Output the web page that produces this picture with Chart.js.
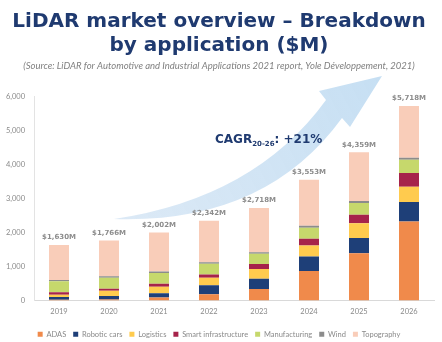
<!DOCTYPE html>
<html>
<head>
<meta charset="utf-8">
<script src="https://cdn.jsdelivr.net/npm/chart.js@4/dist/chart.umd.min.js"></script>
<style>
  html, body { margin: 0; padding: 0; background: #fff; }
  #wrap { width: 442px; height: 342px; position: relative; }
</style>
</head>
<body>
<div id="wrap"><canvas id="lidarChart"></canvas></div>
<script>
// Données (M$)
const years = ['2019', '2020', '2021', '2022', '2023', '2024', '2025', '2026'];
const totals = [1630, 1766, 2002, 2342, 2718, 3553, 4359, 5718];
const adas = [20, 30, 87, 184, 339, 870, 1391, 2319];
const roboticCars = [80, 100, 126, 261, 299, 425, 444, 580];
const logistics = [67, 154, 193, 222, 290, 319, 435, 444];
const smartInfra = [78, 58, 87, 97, 145, 203, 251, 406];
const manufacturing = [319, 328, 319, 319, 300, 319, 348, 386];
const wind = [40, 40, 40, 45, 48, 58, 58, 58];
const topography = [1026, 1056, 1150, 1214, 1297, 1359, 1432, 1525];
const yTicks = [0, 1000, 2000, 3000, 4000, 5000, 6000];

const FONT = 'Lato, "Open Sans", sans-serif';
const HEAVY = '"DejaVu Sans", sans-serif';

// Flèche bleue en arrière-plan + texte CAGR
const arrowPlugin = {
    id: 'arrow',
    beforeDatasetsDraw(chart) {
        const ctx = chart.ctx;
        ctx.save();
        const grad = ctx.createLinearGradient(115, 218, 380, 76);
        grad.addColorStop(0, 'rgba(216,231,245,0.9)');
        grad.addColorStop(1, 'rgba(198,223,243,1)');
        ctx.fillStyle = grad;
        ctx.beginPath();
        ctx.moveTo(114, 219);
        ctx.quadraticCurveTo(255, 198, 326, 100);
        ctx.lineTo(319, 91);
        ctx.lineTo(382, 76);
        ctx.lineTo(350, 127);
        ctx.lineTo(342, 118);
        ctx.quadraticCurveTo(265, 224, 114, 219);
        ctx.closePath();
        ctx.fill();

        // CAGR
        ctx.fillStyle = '#1F3A70';
        ctx.textBaseline = 'alphabetic';
        ctx.textAlign = 'left';
        ctx.font = 'bold 12px ' + HEAVY;
        let x = 215;
        const y = 143;
        ctx.fillText('CAGR', x, y);
        x += ctx.measureText('CAGR').width;
        ctx.font = 'bold 7px ' + HEAVY;
        ctx.fillText('20-26', x, y + 3);
        x += ctx.measureText('20-26').width;
        ctx.font = 'bold 12px ' + HEAVY;
        ctx.fillText(': +21%', x, y);
        ctx.restore();
    }
};

// Totaux au-dessus des barres
const totalsPlugin = {
    id: 'totals',
    afterDatasetsDraw(chart) {
        const ctx = chart.ctx;
        const meta = chart.getDatasetMeta(chart.data.datasets.length - 1);
        ctx.save();
        ctx.font = 'bold 7px ' + HEAVY;
        ctx.fillStyle = '#8c8c8c';
        ctx.textAlign = 'center';
        ctx.textBaseline = 'bottom';
        meta.data.forEach((bar, i) => {
            ctx.fillText('$' + totals[i].toLocaleString('en-US') + 'M', bar.x, bar.y - 4);
        });
        ctx.restore();
    }
};

const series = [
    { label: 'ADAS', data: adas, color: '#F08A4B' },
    { label: 'Robotic cars', data: roboticCars, color: '#1E3F78' },
    { label: 'Logistics', data: logistics, color: '#FFCB4E' },
    { label: 'Smart infrastructure', data: smartInfra, color: '#A6234B' },
    { label: 'Manufacturing', data: manufacturing, color: '#C6D86C' },
    { label: 'Wind', data: wind, color: '#8C8C8C' },
    { label: 'Topography', data: topography, color: '#F9CDB9' }
];

const ctx = document.getElementById('lidarChart').getContext('2d');
new Chart(ctx, {
    type: 'bar',
    data: {
        labels: years,
        datasets: series.map(s => ({
            label: s.label,
            data: s.data,
            backgroundColor: s.color,
            borderWidth: 0,
            barPercentage: 0.8,
            categoryPercentage: 0.5
        }))
    },
    options: {
        responsive: true,
        maintainAspectRatio: false,
        animation: false,
        layout: { padding: { left: 4, right: 8, top: 0, bottom: -6 } },
        plugins: {
            title: {
                display: true,
                text: ['LiDAR market overview \u2013 Breakdown', 'by application ($M)'],
                color: '#1F3A70',
                font: { family: HEAVY, size: 20, weight: 'bold', lineHeight: 1.2 },
                padding: { top: 10, bottom: 0 }
            },
            subtitle: {
                display: true,
                text: '(Source: LiDAR for Automotive and Industrial Applications 2021 report, Yole D\u00e9veloppement, 2021)',
                color: '#808080',
                font: { family: FONT, size: 9.5, style: 'italic' },
                padding: { top: 2, bottom: 25 }
            },
            legend: {
                position: 'bottom',
                labels: {
                    boxWidth: 5,
                    boxHeight: 5,
                    padding: 7,
                    color: '#8a8a8a',
                    font: { family: FONT, size: 7.5 }
                }
            },
            tooltip: { enabled: false }
        },
        scales: {
            x: {
                stacked: true,
                grid: { display: false, drawTicks: false },
                border: { display: true, color: '#d9d9d9' },
                ticks: { color: '#8a8a8a', padding: 7, font: { family: FONT, size: 7.5 } }
            },
            y: {
                stacked: true,
                min: 0,
                max: 6000,
                grid: { display: false, drawTicks: false },
                border: { display: true, color: '#e3e3e3' },
                afterBuildTicks: axis => { axis.ticks = yTicks.map(v => ({ value: v })); },
                afterFit: axis => { axis.width = 30; },
                ticks: {
                    color: '#8a8a8a',
                    padding: 9,
                    font: { family: FONT, size: 7.5 },
                    callback: v => v.toLocaleString('en-US')
                }
            }
        }
    },
    plugins: [arrowPlugin, totalsPlugin]
});
</script>
</body>
</html>
